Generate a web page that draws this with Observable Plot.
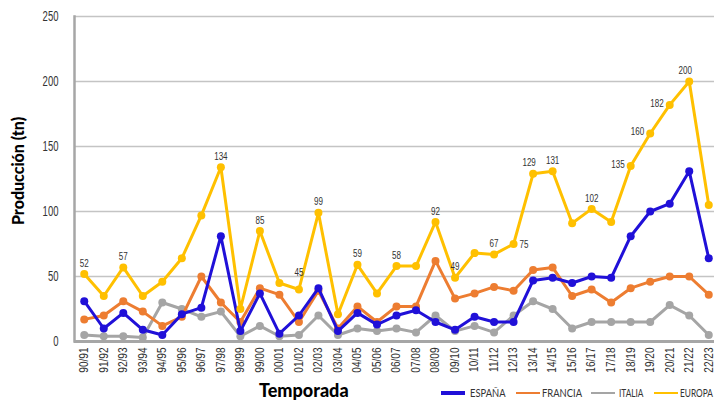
<!DOCTYPE html>
<html>
<head>
<meta charset="utf-8">
<script src="https://cdn.jsdelivr.net/npm/d3@7"></script>
<script src="https://cdn.jsdelivr.net/npm/@observablehq/plot@0.6"></script>
<style>
  html, body { margin: 0; padding: 0; background: #fff; }
  body { width: 714px; height: 400px; overflow: hidden; position: relative; }
  #chart { position: absolute; left: 0; top: 0; width: 718px; }
  .ytitle { position: absolute; left: 17px; top: 171px; transform: translate(-50%, -50%) rotate(-90deg);
    font-family: Lato, "Noto Sans", sans-serif; font-weight: 900; font-size: 16px; color: #000; white-space: nowrap; }
  .xtitle { position: absolute; left: 259px; top: 381px; font-family: Lato, "Noto Sans", sans-serif;
    font-weight: 900; font-size: 18px; color: #000; white-space: nowrap; line-height: 1; }
  .legend { position: absolute; left: 0; top: 386px; width: 714px; height: 14px;
    font-family: Lato, "Noto Sans", sans-serif; font-size: 11px; color: #333; white-space: nowrap; }
  .legend .sw { position: absolute; width: 24px; }
  .legend .lt { position: absolute; top: 0; line-height: 14px; display: inline-block; transform-origin: 0 50%; }
</style>
</head>
<body>
<div id="chart"></div>
<div class="ytitle">Producción (tn)</div>
<div class="xtitle">Temporada</div>
<div class="legend" id="legend"></div>
<script>
const seasons = ["90/91","91/92","92/93","93/94","94/95","95/96","96/97","97/98","98/99","99/00","00/01","01/02","02/03","03/04","04/05","05/06","06/07","07/08","08/09","09/10","10/11","11/12","12/13","13/14","14/15","15/16","16/17","17/18","18/19","19/20","20/21","21/22","22/23"];
const espana  = [31,10,22,9,5,21,26,81,8,37,6,20,41,8,22,13,20,24,15,9,19,15,15,47,49,45,50,49,81,100,106,131,64];
const francia = [17,20,31,23,12,19,50,30,15,41,36,15,39,10,27,15,27,27,62,33,37,42,39,55,57,35,40,30,41,46,50,50,36];
const italia  = [5,4,4,3,30,25,19,23,4,12,4,5,20,5,10,8,10,7,20,8,12,7,20,31,25,10,15,15,15,15,28,20,5];
const europa  = [52,35,57,35,46,64,97,134,25,85,45,40,99,21,59,37,58,58,92,49,68,67,75,129,131,91,102,92,135,160,182,200,105];
const europaLabels = ["52","","57","","","","","134","","85","","45","99","","59","","58","","92","49","","67","75","129","131","","102","","135","160","182","200","105"];
const yTicks = [0,50,100,150,200,250];
const seriesNames = ["ESPAÑA","FRANCIA","ITALIA","EUROPA"];
const colors = {"ESPAÑA":"#2010d8","FRANCIA":"#ed7d31","ITALIA":"#a5a5a5","EUROPA":"#ffc000"};

const rows = seasons.map((s, i) => ({season: s, espana: espana[i], francia: francia[i], italia: italia[i], europa: europa[i], label: europaLabels[i], labelValue: europaLabels[i] ? +europaLabels[i] : null}));

const leftLab = new Set(["18/19","19/20","20/21"]);
const rightLab = new Set(["12/13","22/23"]);
const upLeftLab = new Set(["13/14","21/22"]);
const labeled = rows.filter(d => d.label);
const above = labeled.filter(d => !leftLab.has(d.season) && !rightLab.has(d.season) && !upLeftLab.has(d.season));
const upLeft = labeled.filter(d => upLeftLab.has(d.season));
const left = labeled.filter(d => leftLab.has(d.season));
const right = labeled.filter(d => rightLab.has(d.season));

function series(key, color) {
  return [
    Plot.line(rows, {x: "season", y: key, stroke: color, strokeWidth: 3}),
    Plot.dot(rows, {x: "season", y: key, fill: color, r: 4})
  ];
}

const lab = {fill: "#333", fontSize: 11.5};
const chart = Plot.plot({
  width: 718,
  height: 400,
  marginLeft: 74,
  marginRight: 0,
  marginTop: 16,
  marginBottom: 59,
  style: {fontFamily: "'Liberation Sans', Arial, sans-serif", fontSize: "12px", color: "#333", background: "transparent", maxWidth: "none"},
  x: {type: "point", domain: seasons, padding: 0.5, round: false, label: null},
  y: {domain: [0, 250], label: null},
  marks: [
    Plot.gridY(yTicks.filter(d => d > 0), {stroke: "#c4c4c4", strokeOpacity: 1, strokeWidth: 1.5}),
    Plot.axisY(yTicks, {tickSize: 0, tickPadding: 16, fontSize: 14, label: null}),
    Plot.axisX({tickSize: 0, tickRotate: -90, tickPadding: 6, fontSize: 12, label: null}),
    Plot.frame({anchor: "left", stroke: "#a6a6a6", strokeWidth: 2.5}),
    Plot.ruleY([0], {stroke: "#a6a6a6", strokeWidth: 3}),
    ...series("italia", colors["ITALIA"]),
    ...series("francia", colors["FRANCIA"]),
    ...series("espana", colors["ESPAÑA"]),
    ...series("europa", colors["EUROPA"]),
    Plot.text(above, {x: "season", y: "labelValue", text: "label", dy: -11, ...lab}),
    Plot.text(upLeft, {x: "season", y: "labelValue", text: "label", dx: -4, dy: -11, ...lab}),
    Plot.text(left, {x: "season", y: "labelValue", text: "label", dx: -6, dy: -2, textAnchor: "end", ...lab}),
    Plot.text(right, {x: "season", y: "labelValue", text: "label", dx: 6, textAnchor: "start", ...lab})
  ]
});
document.getElementById("chart").appendChild(chart);

// emulate the condensed face of the original
function squeeze(selector, f) {
  chart.querySelectorAll(selector).forEach(t => {
    const w = t.getComputedTextLength();
    if (w > 0) { t.setAttribute("textLength", (w * f).toFixed(2)); t.setAttribute("lengthAdjust", "spacingAndGlyphs"); }
  });
}
squeeze('[aria-label="y-axis tick label"] text', 0.68);
squeeze('[aria-label="x-axis tick label"] text', 0.84);
squeeze('g[aria-label="text"] text', 0.7);

const legend = document.getElementById("legend");
const legendX = {"ESPAÑA": [441, 470, 35.5], "FRANCIA": [516, 542, 40], "ITALIA": [591, 619, 24.5], "EUROPA": [654, 680, 33]};
for (const name of seriesNames) {
  const sw = document.createElement("div");
  sw.className = "sw";
  const h = name === "ESPAÑA" ? 4 : 2.5;
  sw.style.height = h + "px";
  sw.style.top = (7 - h / 2) + "px";
  sw.style.left = legendX[name][0] + "px";
  sw.style.background = colors[name];
  const t = document.createElement("span");
  t.className = "lt";
  t.style.left = legendX[name][1] + "px";
  t.textContent = name;
  legend.appendChild(sw);
  legend.appendChild(t);
  const w = t.getBoundingClientRect().width;
  if (w > 0) t.style.transform = `scaleX(${(legendX[name][2] / w).toFixed(3)})`;
}
</script>
</body>
</html>
